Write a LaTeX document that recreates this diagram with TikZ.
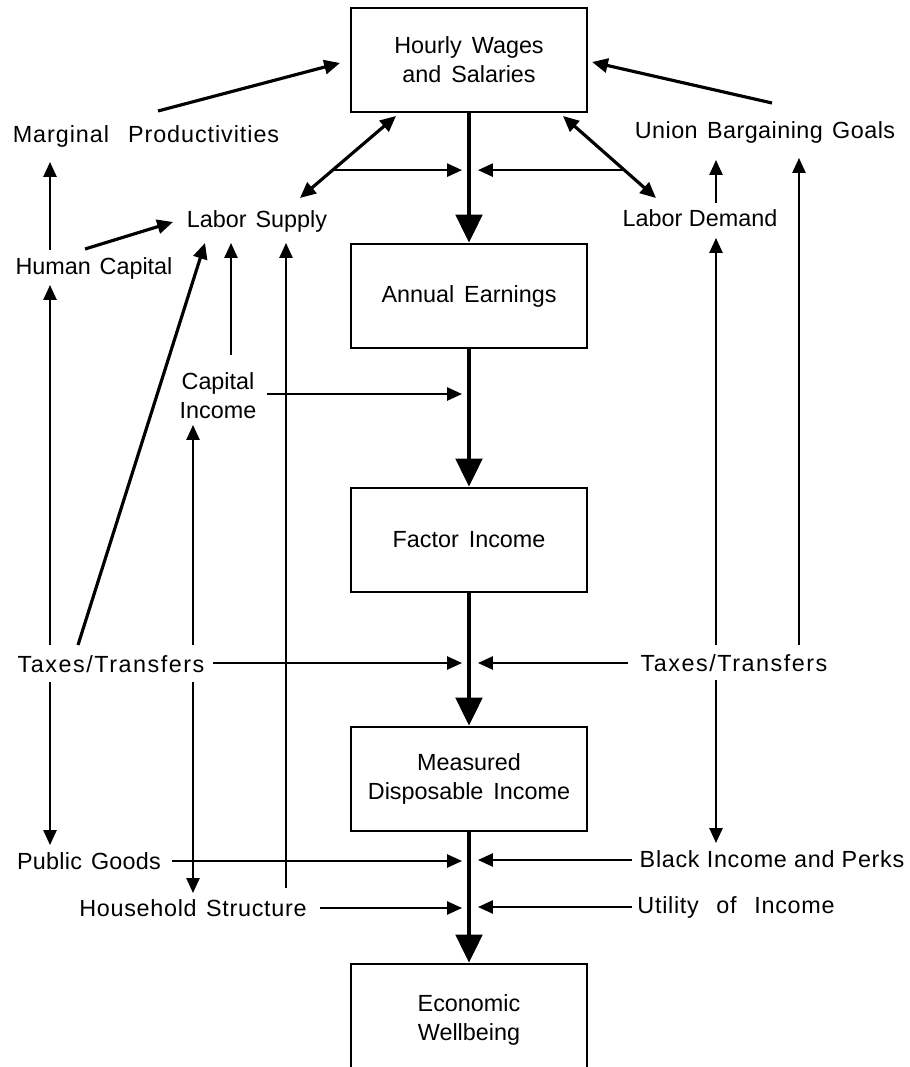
\documentclass[tikz,border=0pt]{standalone}
\usepackage{fontspec}
\setmainfont{Liberation Sans}
\usetikzlibrary{arrows.meta}
\newcommand\lbfont{\fontsize{13.3}{16.5}\selectfont}
\newcommand\spaced[2]{{\addfontfeatures{LetterSpace=#1}#2}}
\begin{document}
\begin{tikzpicture}[x=0.02cm,y=-0.02cm,
  box/.style={draw,line width=1.5pt,minimum width=4.72cm,minimum height=2.08cm,align=center,inner sep=0pt,font=\lbfont},
  lbl/.style={inner sep=0pt,align=center,font=\lbfont},
  conn/.style={line width=1.1pt,-{Triangle[length=8.5pt,width=7.5pt]}},
  heavy/.style={line width=1.8pt,-{Triangle[length=9pt,width=8pt]}},
  dbl/.style={line width=1.8pt,{Triangle[length=9pt,width=8pt]}-{Triangle[length=9pt,width=8pt]}},
  mainarr/.style={line width=2.4pt,-{Triangle[length=16pt,width=15pt]}}]
\useasboundingbox (0,0) rectangle (909,1067);
\clip (0,0) rectangle (909,1067);
% boxes
\node[box] (hw) at (469,60) {Hourly\hspace{0.15em} Wages\\and\hspace{0.15em} Salaries};
\node[box] (an) at (469,296) {Annual\hspace{0.15em} Earnings};
\node[box] (fi) at (469,540) {Factor\hspace{0.15em} Income};
\node[box] (md) at (469,779) {Measured\\Disposable\hspace{0.15em} Income};
\node[box,minimum height=2.24cm] (ew) at (469,1020) {Economic\\Wellbeing};
% labels
\node[lbl] (mp) at (146,136) {\spaced{4}{Marginal\hspace{0.5em} Productivities}};
\node[lbl] (ls) at (257,221) {Labor\hspace{0.1em} Supply};
\node[lbl] (hc) at (94,268) {Human\hspace{0.1em} Capital};
\node[lbl] (ubg) at (765,132) {\spaced{2}{Union\hspace{0.1em} Bargaining\hspace{0.1em} Goals}};
\node[lbl] (ld) at (700,218) {Labor Demand};
\node[lbl] (ci) at (218,396) {Capital\\Income};
\node[lbl] (ttl) at (111,664) {\spaced{6.5}{Taxes/Transfers}};
\node[lbl] (ttr) at (734,663) {\spaced{6.5}{Taxes/Transfers}};
\node[lbl] (pg) at (89,861) {\spaced{1}{Public\hspace{0.1em} Goods}};
\node[lbl] (hs) at (193,908) {\spaced{3}{Household\hspace{0.1em} Structure}};
\node[lbl] (bip) at (772,859) {\spaced{3}{Black Income and Perks}};
\node[lbl] (ui) at (736,907) {\spaced{3}{Utility\hspace{0.45em} of\hspace{0.45em} Income}};
% columns next to the main line
\coordinate (mainL) at (462,0);
\coordinate (mainR) at (478,0);
% main flow
\draw[mainarr] (hw.south) -- (an.north);
\draw[mainarr] (an.south) -- (fi.north);
\draw[mainarr] (fi.south) -- (md.north);
\draw[mainarr] (md.south) -- (ew.north);
% top influences
\draw[heavy] ([shift={(12,-25)}]mp.center) -- ([shift={(-129,3)}]hw.center);
\draw[heavy] ([shift={(7,-29)}]ubg.center) -- ([shift={(123,2)}]hw.center);
\draw[dbl] ([shift={(43,-23)}]ls.center) -- node[coordinate,pos=0.34] (p1) {} ([shift={(-73,56)}]hw.center);
\draw[conn] (p1) -- (p1 -| mainL);
\draw[dbl] ([shift={(-44,-20)}]ld.center) -- node[coordinate,pos=0.34] (p2) {} ([shift={(94,56)}]hw.center);
\draw[conn] (p2) -- (p2 -| mainR);
\draw[heavy] ([shift={(-9,-19)}]hc.center) -- ([shift={(-84,1)}]ls.center);
\draw[conn] ([shift={(-44,-18)}]hc.center) -- ([shift={(-96,26)}]mp.center);
\draw[conn] ([shift={(16,-15)}]ld.center) -- ([shift={(-49,28)}]ubg.center);
% right side verticals
\draw[conn] ([shift={(65,-18)}]ttr.center) -- ([shift={(34,26)}]ubg.center);
\draw[conn] ([shift={(-18,-18)}]ttr.center) -- ([shift={(16,20)}]ld.center);
\draw[conn] ([shift={(-18,17)}]ttr.center) -- ([shift={(-56,-16)}]bip.center);
% left side verticals
\draw[conn] ([shift={(-61,-19)}]ttl.center) -- ([shift={(-44,17)}]hc.center);
\draw[conn] ([shift={(-61,18)}]ttl.center) -- ([shift={(-39,-16)}]pg.center);
\draw[heavy] ([shift={(-33,-19)}]ttl.center) -- ([shift={(-52,22)}]ls.center);
\draw[conn] ([shift={(13,-41)}]ci.center) -- ([shift={(-26,22)}]ls.center);
\draw[conn] ([shift={(93,-20)}]hs.center) -- ([shift={(29,22)}]ls.center);
\draw[conn] ([shift={(82,-19)}]ttl.center) -- ([shift={(-25,29)}]ci.center);
\draw[conn] ([shift={(82,18)}]ttl.center) -- ([shift={(0,-15)}]hs.center);
% horizontal inputs to the main line
\draw[conn] ([shift={(49,-2)}]ci.center) coordinate (c1) -- (c1 -| mainL);
\draw[conn] ([shift={(102,-1)}]ttl.center) coordinate (c2) -- (c2 -| mainL);
\draw[conn] ([shift={(-106,0)}]ttr.center) coordinate (c3) -- (c3 -| mainR);
\draw[conn] ([shift={(83,0)}]pg.center) coordinate (c4) -- (c4 -| mainL);
\draw[conn] ([shift={(-140,1)}]bip.center) coordinate (c5) -- (c5 -| mainR);
\draw[conn] ([shift={(127,0)}]hs.center) coordinate (c6) -- (c6 -| mainL);
\draw[conn] ([shift={(-104,0)}]ui.center) coordinate (c7) -- (c7 -| mainR);
\end{tikzpicture}
\end{document}
